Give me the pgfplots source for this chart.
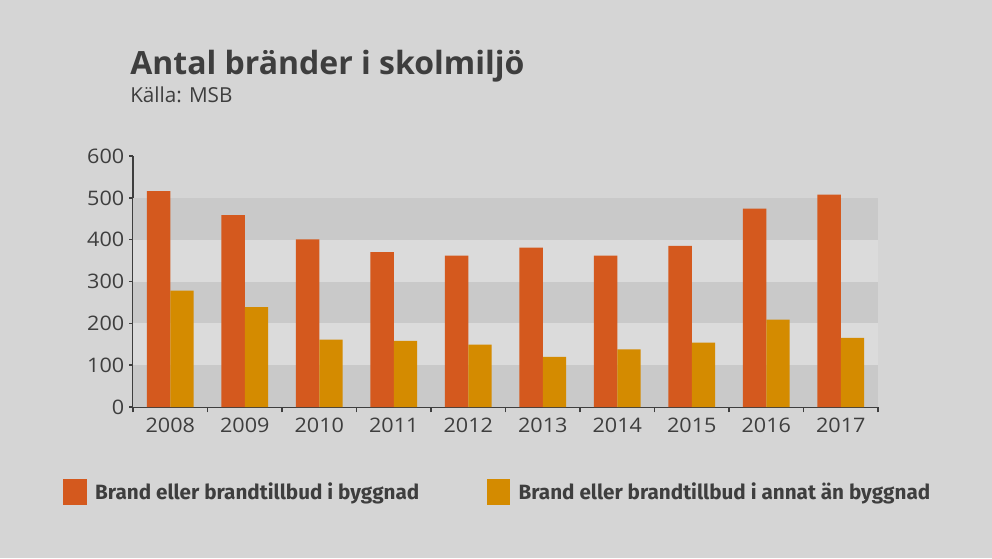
\documentclass[border=0pt]{standalone}
\usepackage{pgfplots}
\pgfplotsset{compat=1.18}
\usepackage{fontspec}
\setmainfont{Open Sans}
\newfontfamily\tickfont{Open Sans}[FakeStretch=1.08]
\newfontfamily\legfont{Fira Sans}
\definecolor{bg}{HTML}{D5D5D5}
\definecolor{bandd}{HTML}{C9C9C9}
\definecolor{bandl}{HTML}{DBDBDB}
\definecolor{orng}{HTML}{D4591E}
\definecolor{gold}{HTML}{D48B00}
\definecolor{txt}{HTML}{3E3E3E}
\begin{document}
\begin{tikzpicture}
\fill[bg] (0pt,0pt) rectangle (744pt,-418.5pt);
\useasboundingbox (0pt,0pt) rectangle (744pt,-418.5pt);
\node[anchor=base west, inner sep=0pt, text=txt, font=\fontsize{24}{27}\selectfont\bfseries] at (97.5pt,-55.5pt) {Antal bränder i skolmiljö};
\node[anchor=base west, inner sep=0pt, text=txt, font=\fontsize{15.5}{18}\selectfont] at (97.5pt,-76.5pt) {Källa: MSB};
\begin{axis}[
  at={(99.75pt,-305.25pt)}, anchor=south west,
  scale only axis, width=558.75pt, height=188.25pt,
  xmin=-0.5, xmax=9.5, ymin=0, ymax=600,
  axis x line=bottom, axis y line=left,
  axis line style={txt, line width=1.2pt, -},
  every outer x axis line/.append style={-}, every outer y axis line/.append style={-},
  xtick={0,...,9},
  xticklabels={2008,2009,2010,2011,2012,2013,2014,2015,2016,2017},
  minor xtick={-0.5,0.5,...,9.5},
  ytick={0,100,...,600},
  tick align=outside,
  major x tick style={draw=none},
  minor x tick style={txt, line width=1.2pt},
  minor tick length=4pt,
  major y tick style={txt, line width=1.2pt},
  major tick length=3pt,
  tick label style={text=txt, font=\tickfont\fontsize{15}{18}\selectfont},
  xticklabel style={yshift=-1.5pt},
  /pgf/number format/assume math mode=true,
  ybar, bar width=17.5pt,
  clip=false,
  legend style={at={(-0.094,-0.339)}, anchor=west, draw=none, fill=none,
    legend columns=2, font=\legfont\fontsize{15.5}{18}\selectfont\bfseries, text=txt,
    /tikz/every even column/.append style={column sep=48.5pt},
    inner sep=0pt},
  legend image code/.code={\fill[#1] (0pt,-9.5pt) rectangle (17.5pt,9.5pt); \path (22pt,0pt);},
]
\fill[bandd] (axis cs:-0.5,0) rectangle (axis cs:9.5,100);
\fill[bandl] (axis cs:-0.5,100) rectangle (axis cs:9.5,200);
\fill[bandd] (axis cs:-0.5,200) rectangle (axis cs:9.5,300);
\fill[bandl] (axis cs:-0.5,300) rectangle (axis cs:9.5,400);
\fill[bandd] (axis cs:-0.5,400) rectangle (axis cs:9.5,500);
\addplot[fill=orng, draw=none, bar shift=-8.75pt] coordinates {
(0,516) (1,459) (2,401) (3,370) (4,362) (5,381) (6,362) (7,385) (8,474) (9,508)};
\addlegendentry{Brand eller brandtillbud i byggnad}
\addplot[fill=gold, draw=none, bar shift=8.75pt] coordinates {
(0,278) (1,239) (2,161) (3,158) (4,149) (5,120) (6,138) (7,154) (8,209) (9,165)};
\addlegendentry{Brand eller brandtillbud i annat än byggnad}
\end{axis}
\end{tikzpicture}
\end{document}
